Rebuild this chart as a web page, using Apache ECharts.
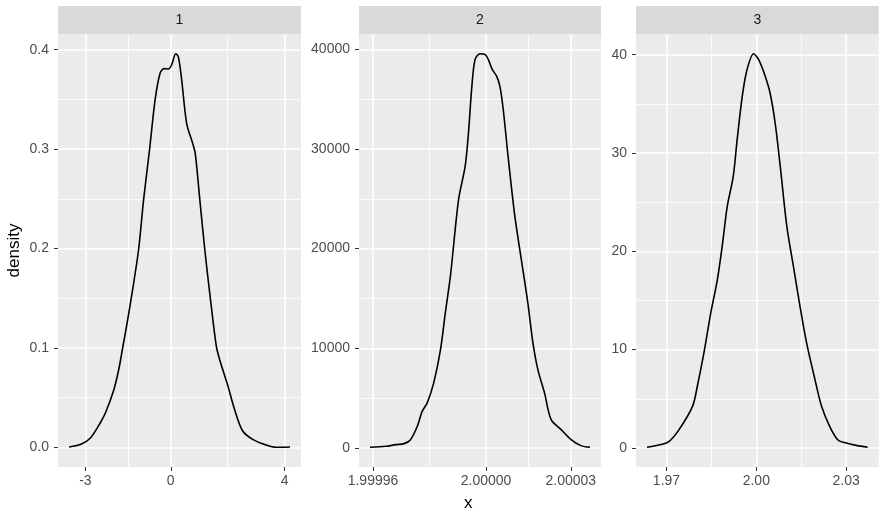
<!DOCTYPE html>
<html>
<head>
<meta charset="utf-8">
<script src="https://cdn.jsdelivr.net/npm/echarts@6/dist/echarts.min.js"></script>
<style>
  html, body { margin: 0; padding: 0; background: #fff; }
  #main { width: 886px; height: 519px; }
</style>
</head>
<body>
<div id="main"></div>
<script>
// facet labels
const facetNames = ['1', '2', '3'];

// panel 1 density curve
const x1 = [-3.575, -3.16, -2.815, -2.47, -2.29, -2.0, -1.83, -1.69, -1.535, -1.36, -1.13, -0.955, -0.745, -0.548, -0.373, -0.233, -0.082, 0.035, 0.174, 0.265, 0.383, 0.558, 0.767, 0.86, 1.022, 1.196, 1.395, 1.60, 1.72, 2.01, 2.243, 2.53, 2.88, 3.35, 3.70, 4.19];
const d1 = [0.0003, 0.003, 0.0097, 0.025, 0.035, 0.058, 0.078, 0.100, 0.125, 0.155, 0.199, 0.249, 0.2995, 0.35, 0.3766, 0.381, 0.3806, 0.385, 0.396, 0.393, 0.370, 0.326, 0.306, 0.296, 0.249, 0.199, 0.149, 0.102, 0.088, 0.0616, 0.038, 0.0164, 0.008, 0.0023, 0.0, 0.0003];

// panel 2 density curve
const x2 = [1.99995895, 1.9999646, 1.9999681, 1.999971, 1.9999733, 1.9999757, 1.9999774, 1.9999792, 1.9999815, 1.9999839, 1.9999856, 1.9999874, 1.9999903, 1.99999263, 1.9999938, 1.999995, 1.99999614, 1.9999979, 1.99999965, 2.0000008, 2.0000022, 2.00000375, 2.0000049, 2.0000061, 2.0000078, 2.0000102, 2.0000125, 2.0000148, 2.0000166, 2.00001835, 2.0000207, 2.00002305, 2.0000266, 2.0000301, 2.0000336, 2.0000368];
const d2 = [60, 160, 330, 430, 830, 2170, 3670, 4520, 6530, 9870, 13550, 17230, 24930, 28270, 31630, 36300, 38990, 39560, 39490, 38990, 37980, 37310, 36300, 33960, 29280, 23250, 18900, 14560, 10540, 7860, 5520, 2840, 1840, 830, 230, 60];

// panel 3 density curve
const x3 = [1.9635, 1.9682, 1.9709, 1.9742, 1.9787, 1.9803, 1.9825, 1.9848, 1.9870, 1.9886, 1.9903, 1.9923, 1.9936, 1.9953, 1.9969, 1.9991, 2.0008, 2.0030, 2.0046, 2.0063, 2.0080, 2.0102, 2.0124, 2.0146, 2.0168, 2.0196, 2.0218, 2.0245, 2.0273, 2.0301, 2.0334, 2.0372];
const d3 = [0.06, 0.34, 0.67, 1.86, 4.23, 6.27, 9.66, 13.73, 17.12, 20.5, 24.57, 27.62, 31.35, 35.76, 38.47, 40.10, 39.49, 37.79, 36.10, 33.05, 28.64, 22.54, 18.47, 14.40, 10.68, 6.95, 4.23, 2.20, 0.8, 0.5, 0.26, 0.06];

// x breaks (major = labelled, minor = grid only)
const xMajor1 = [-3, 0, 4];
const xMinor1 = [-1.5, 2];
const xMajor2 = [1.99996, 2.00000, 2.00003];
const xMinor2 = [1.99998, 2.000015];
const xMajor3 = [1.97, 2.00, 2.03];
const xMinor3 = [1.985, 2.015];

// y breaks
const yMajor1 = [0, 0.1, 0.2, 0.3, 0.4];
const yMinor1 = [0.05, 0.15, 0.25, 0.35];
const yMajor2 = [0, 10000, 20000, 30000, 40000];
const yMinor2 = [5000, 15000, 25000, 35000];
const yMajor3 = [0, 10, 20, 30, 40];
const yMinor3 = [5, 15, 25, 35];

const FONT = 'Liberation Sans, Arial, sans-serif';

// panel layout
const panels = [
  { left: 58,  width: 243,   xs: x1, ds: d1, xMaj: xMajor1, xMin: xMinor1, yMaj: yMajor1, yMin: yMinor1,
    xFmt: v => String(Math.round(v)), yFmt: v => v.toFixed(1) },
  { left: 359, width: 242,   xs: x2, ds: d2, xMaj: xMajor2, xMin: xMinor2, yMaj: yMajor2, yMin: yMinor2,
    xFmt: v => v.toFixed(5), yFmt: v => String(Math.round(v)) },
  { left: 636, width: 242.7, xs: x3, ds: d3, xMaj: xMajor3, xMin: xMinor3, yMaj: yMajor3, yMin: yMinor3,
    xFmt: v => v.toFixed(2), yFmt: v => String(Math.round(v)) }
];
const TOP = 34, HEIGHT = 433, STRIP_TOP = 6, STRIP_H = 28;

// ggplot style 5% expansion
function expand(arr) {
  const lo = Math.min(...arr), hi = Math.max(...arr);
  const pad = (hi - lo) * 0.05;
  return [lo - pad, hi + pad];
}

const grid = [], xAxis = [], yAxis = [], series = [], graphic = [];

panels.forEach((p, i) => {
  grid.push({
    left: p.left, top: TOP, width: p.width, height: HEIGHT,
    show: true, backgroundColor: '#EBEBEB', borderWidth: 0
  });
  const xr = expand(p.xs);
  const yr = expand(p.ds);

  // major x axis
  xAxis.push({
    type: 'value', gridIndex: i, min: xr[0], max: xr[1], position: 'bottom',
    axisLine: { show: false, onZero: false },
    axisTick: { show: true, length: 4, customValues: p.xMaj, lineStyle: { color: '#333333', width: 1 } },
    axisLabel: { customValues: p.xMaj, formatter: p.xFmt, margin: 7, color: '#4D4D4D', fontSize: 14, fontFamily: FONT },
    splitLine: { show: true, lineStyle: { color: '#FFFFFF', width: 1.6 } }
  });
  // minor x grid lines
  xAxis.push({
    type: 'value', gridIndex: i, min: xr[0], max: xr[1], position: 'bottom',
    axisLine: { show: false, onZero: false },
    axisTick: { show: false, customValues: p.xMin },
    axisLabel: { show: false },
    splitLine: { show: true, lineStyle: { color: '#FFFFFF', width: 0.8 } }
  });

  // major y axis
  yAxis.push({
    type: 'value', gridIndex: i, min: yr[0], max: yr[1], position: 'left',
    name: i === 0 ? 'density' : '', nameLocation: 'middle', nameGap: 35,
    nameTextStyle: { fontSize: 17, color: '#000000', fontFamily: FONT },
    axisLine: { show: false, onZero: false },
    axisTick: { show: true, length: 4, customValues: p.yMaj, lineStyle: { color: '#333333', width: 1 } },
    axisLabel: { customValues: p.yMaj, formatter: p.yFmt, margin: 9, color: '#4D4D4D', fontSize: 14, fontFamily: FONT },
    splitLine: { show: true, lineStyle: { color: '#FFFFFF', width: 1.6 } }
  });
  // minor y grid lines
  yAxis.push({
    type: 'value', gridIndex: i, min: yr[0], max: yr[1], position: 'left',
    axisLine: { show: false, onZero: false },
    axisTick: { show: false, customValues: p.yMin },
    axisLabel: { show: false },
    splitLine: { show: true, lineStyle: { color: '#FFFFFF', width: 0.8 } }
  });

  series.push({
    type: 'line',
    xAxisIndex: 2 * i,
    yAxisIndex: 2 * i,
    data: p.xs.map((x, k) => [x, p.ds[k]]),
    showSymbol: false,
    smooth: 0.3,
    lineStyle: { color: '#000000', width: 1.6 },
    silent: true,
    z: 5
  });

  // facet strip
  graphic.push({
    type: 'rect',
    shape: { x: p.left, y: STRIP_TOP, width: p.width, height: STRIP_H },
    style: { fill: '#D9D9D9' }
  });
  graphic.push({
    type: 'text',
    x: p.left + p.width / 2, y: STRIP_TOP + STRIP_H / 2,
    style: { text: facetNames[i], fill: '#1A1A1A', fontSize: 14, fontFamily: FONT, align: 'center', verticalAlign: 'middle' }
  });
});

// shared x title, centred across all panels
graphic.push({
  type: 'text',
  x: (panels[0].left + panels[2].left + panels[2].width) / 2, y: 503,
  style: { text: 'x', fill: '#000000', fontSize: 17, fontFamily: FONT, align: 'center', verticalAlign: 'middle' }
});

const chart = echarts.init(document.getElementById('main'));
chart.setOption({
  animation: false,
  backgroundColor: '#FFFFFF',
  grid: grid,
  xAxis: xAxis,
  yAxis: yAxis,
  series: series,
  graphic: graphic
});
</script>
</body>
</html>
